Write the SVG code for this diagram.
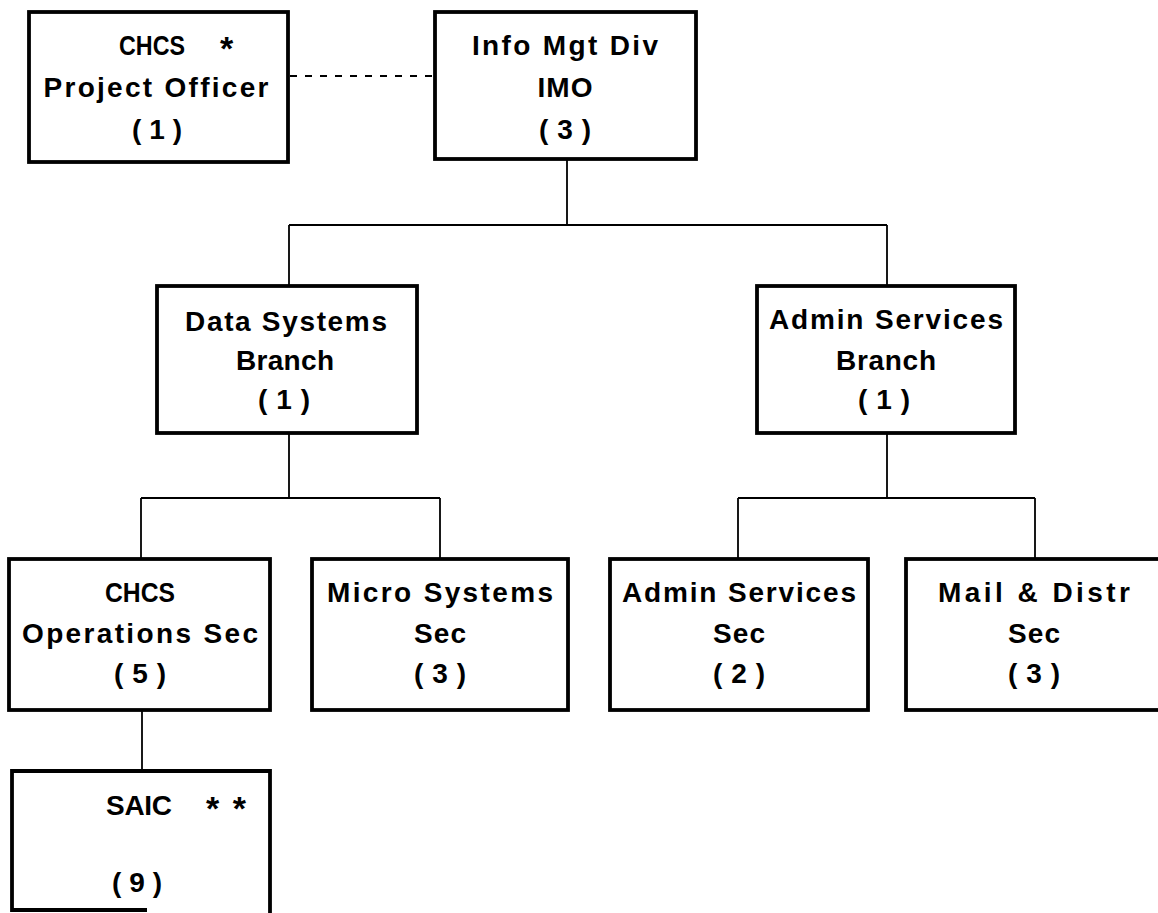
<svg xmlns="http://www.w3.org/2000/svg" width="1158" height="913" viewBox="0 0 1158 913">
<style>
.box{fill:#fff;stroke:#000;stroke-width:3.8}
.t{font-family:"Liberation Sans",Arial,sans-serif;font-weight:bold;font-size:28px;fill:#000;text-anchor:middle}
.ts{font-family:"Liberation Sans",Arial,sans-serif;font-weight:bold;font-size:28px;fill:#000}
.star{font-family:"Liberation Sans",Arial,sans-serif;font-weight:bold;font-size:34px;fill:#000}
.c{fill:none;stroke:#000;stroke-width:1.8}
.d{fill:none;stroke:#000;stroke-width:1.8;stroke-dasharray:7 8}
</style>
<rect width="1158" height="913" fill="#fff"/>
<g id="connectors">
<path class="d" d="M290 76 H435"/>
<path class="c" d="M567 159 V225 M289 225 H887 M289 225 V286 M887 225 V286"/>
<path class="c" d="M289 433 V498 M141 498 H440 M141 498 V559 M440 498 V559"/>
<path class="c" d="M887 433 V498 M738 498 H1035 M738 498 V559 M1035 498 V559"/>
<path class="c" d="M142 710 V771"/>
</g>
<g id="po">
<rect class="box" x="29" y="12" width="259" height="150"/>
<text class="ts" x="119" y="55"><tspan textLength="66" lengthAdjust="spacingAndGlyphs">CHCS</tspan><tspan class="star" x="220" y="60">*</tspan></text>
<text class="t" x="156" y="97" textLength="225" lengthAdjust="spacing">Project Officer</text>
<text class="t" x="157" y="139" textLength="50" lengthAdjust="spacing">(1)</text>
</g>
<g id="imo">
<rect class="box" x="435" y="12" width="261" height="147"/>
<text class="t" x="565" y="55" textLength="186" lengthAdjust="spacing">Info Mgt Div</text>
<text class="t" x="565" y="97" textLength="55" lengthAdjust="spacing">IMO</text>
<text class="t" x="565" y="139" textLength="52" lengthAdjust="spacing">(3)</text>
</g>
<g id="dsb">
<rect class="box" x="157" y="286" width="260" height="147"/>
<text class="t" x="286" y="331" textLength="202" lengthAdjust="spacing">Data Systems</text>
<text class="t" x="285" y="370" textLength="98" lengthAdjust="spacing">Branch</text>
<text class="t" x="284" y="409" textLength="52" lengthAdjust="spacing">(1)</text>
</g>
<g id="asb">
<rect class="box" x="757" y="286" width="258" height="147"/>
<text class="t" x="886" y="329" textLength="234" lengthAdjust="spacing">Admin Services</text>
<text class="t" x="886" y="370" textLength="100" lengthAdjust="spacing">Branch</text>
<text class="t" x="884" y="409" textLength="52" lengthAdjust="spacing">(1)</text>
</g>
<g id="ops">
<rect class="box" x="9" y="559" width="261" height="151"/>
<text class="t" x="140" y="602" textLength="70" lengthAdjust="spacingAndGlyphs">CHCS</text>
<text class="t" x="140" y="643" textLength="236" lengthAdjust="spacing">Operations Sec</text>
<text class="t" x="140" y="683" textLength="52" lengthAdjust="spacing">(5)</text>
</g>
<g id="micro">
<rect class="box" x="312" y="559" width="256" height="151"/>
<text class="t" x="440" y="602" textLength="226" lengthAdjust="spacing">Micro Systems</text>
<text class="t" x="440" y="643" textLength="52" lengthAdjust="spacing">Sec</text>
<text class="t" x="440" y="683" textLength="52" lengthAdjust="spacing">(3)</text>
</g>
<g id="adsec">
<rect class="box" x="610" y="559" width="258" height="151"/>
<text class="t" x="739" y="602" textLength="234" lengthAdjust="spacing">Admin Services</text>
<text class="t" x="739" y="643" textLength="52" lengthAdjust="spacing">Sec</text>
<text class="t" x="739" y="683" textLength="52" lengthAdjust="spacing">(2)</text>
</g>
<g id="mail">
<rect class="box" x="906" y="559" width="257" height="151"/>
<text class="t" x="1034" y="602" textLength="192" lengthAdjust="spacing">Mail &amp; Distr</text>
<text class="t" x="1034" y="643" textLength="52" lengthAdjust="spacing">Sec</text>
<text class="t" x="1034" y="683" textLength="52" lengthAdjust="spacing">(3)</text>
</g>
<g id="saic">
<path class="box" d="M147 910 H12 V771 H270 V913" fill="none"/>
<text class="ts" x="106" y="815"><tspan textLength="66" lengthAdjust="spacing">SAIC</tspan><tspan class="star" x="206" y="820" textLength="40" lengthAdjust="spacing">**</tspan></text>
<text class="t" x="137" y="892" textLength="50" lengthAdjust="spacing">(9)</text>
</g>
</svg>
